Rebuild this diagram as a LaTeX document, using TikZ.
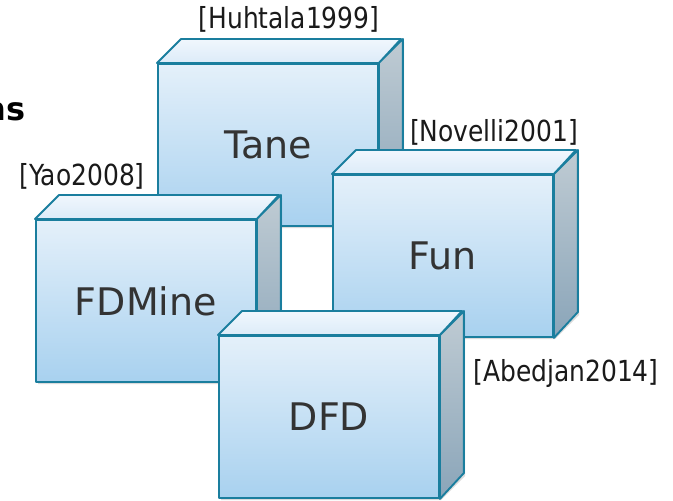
\documentclass[tikz,border=0pt]{standalone}
\usepackage{fontspec}
\setmainfont{DejaVu Sans}
\newfontfamily\citefont[FakeStretch=0.86]{DejaVu Sans}
\definecolor{boxedge}{HTML}{1A7E9E}
\definecolor{frontTop}{HTML}{E4F0FA}
\definecolor{frontBot}{HTML}{A8D1EF}
\definecolor{topBack}{HTML}{F0F7FD}
\definecolor{topFront}{HTML}{DCEBF8}
\definecolor{sideTop}{HTML}{BFCBD3}
\definecolor{sideBot}{HTML}{8AA5B9}
\definecolor{textgray}{HTML}{333333}
\definecolor{citeText}{HTML}{1A1A1A}

% one algorithm drawn as a shaded block: front face node, top and side faces
\newcommand\algobox[4]{% #1 name, #2 left, #3 top, #4 label
  \fill[black, opacity=0.14]
    (#2+3,#3+3) -- (#2+27,#3-21) -- (#2+247,#3-21) -- (#2+247,#3+141)
    -- (#2+223,#3+165) -- (#2+3,#3+165) -- cycle;
  \node[frontface, anchor=north west] (#1) at (#2,#3) {#4};
  \path[edge, top color=topBack, bottom color=topFront]
    (#1.north west) -- ++(24,-24) -- ++(220,0) -- (#1.north east) -- cycle;
  \path[edge, top color=sideTop, bottom color=sideBot]
    (#1.north east) -- ++(24,-24) -- ++(0,162) -- (#1.south east) -- cycle;
}

\begin{document}
\begin{tikzpicture}[x=1pt, y=-1pt,
  edge/.style={draw=boxedge, line width=1.9pt, line join=round},
  frontface/.style={edge, rectangle, minimum width=220pt, minimum height=162pt,
    inner sep=0pt, top color=frontTop, bottom color=frontBot,
    font=\fontsize{38}{40}\selectfont, text=textgray},
  cite/.style={font=\citefont\fontsize{29}{30}\selectfont, text=citeText,
    inner sep=0pt, fill=white},
]
\useasboundingbox (0,0) rectangle (673,501);
\clip (0,0) rectangle (673,501);

\node[anchor=base east, inner sep=0pt,
  font=\bfseries\fontsize{32}{34}\selectfont] (title) at (26,120) {ns};

\algobox{tane}{157}{63}{Tane}
\algobox{fdmine}{35}{219}{FDMine}
\algobox{fun}{332}{174}{Fun}
\algobox{dfd}{218}{335}{DFD}

\node[cite] (c1) at (289,19) {[Huhtala1999]};
\node[cite] (c2) at (494,132) {[Novelli2001]};
\node[cite] (c3) at (82,176) {[Yao2008]};
\node[cite] (c4) at (566,373) {[Abedjan2014]};
\end{tikzpicture}
\end{document}
